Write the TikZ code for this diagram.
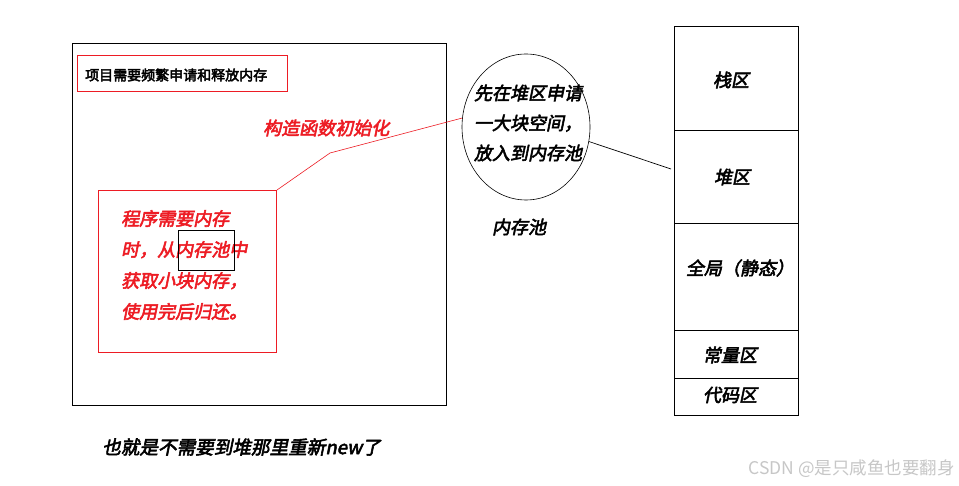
\documentclass[tikz,border=0pt]{standalone}
\usepackage{fontspec}
\newfontfamily\cjk{Noto Sans CJK SC}
\newfontfamily\cjkb{Noto Sans CJK SC}[FakeBold=3]
\newfontfamily\cjkbi{Noto Sans CJK SC}[FakeBold=3,FakeSlant=0.2]
\usetikzlibrary{shapes.geometric}
\definecolor{myred}{RGB}{237,28,36}
\begin{document}
\begin{tikzpicture}[x=1pt,y=-1pt,
  box/.style={draw=black,line width=1pt,inner sep=0pt,anchor=north west},
  redbox/.style={draw=myred,line width=1pt,inner sep=0pt,anchor=north west},
  region/.style={draw=black,line width=0.9pt,inner sep=0pt,anchor=north west,minimum width=124pt},
  bitxt/.style={inner sep=0pt,font=\cjkbi\fontsize{18}{30}\selectfont,text=black},
  redtxt/.style={inner sep=0pt,font=\cjkbi\fontsize{18}{31}\selectfont,text=myred}]
\useasboundingbox (0,0) rectangle (959,486);
\fill[white] (0,0) rectangle (959,486);
% left big frame
\node[box, minimum width=374pt, minimum height=362pt] (big) at (72,43) {};
\node[redbox, minimum width=210pt, minimum height=36pt] (title) at (77,55) {};
\node[inner sep=0pt, font=\cjkb\fontsize{14}{16}\selectfont, anchor=west] (titletxt) at (85,75) {项目需要频繁申请和释放内存};
\node[redtxt, anchor=west] (ctor) at (263,128) {构造函数初始化};
\node[redbox, minimum width=178pt, minimum height=162pt] (prog) at (98,190) {};
\node[redtxt, align=left, anchor=west] (progtxt) at (121,265) {程序需要内存\\时，从内存池中\\获取小块内存，\\使用完后归还。};
\node[box, line width=0.8pt, minimum width=56pt, minimum height=40pt] (hl) at (178,230) {};
% memory pool
\node[draw, ellipse, minimum width=128pt, minimum height=146pt, inner sep=0pt, line width=0.6pt] (pool) at (526,127) {};
\node[bitxt, align=center] (pooltxt) at (528,123) {先在堆区申请\\一大块空间，\\放入到内存池};
\node[bitxt] (poollbl) at (519,227) {内存池};
% memory layout column
\node[region, minimum height=104pt] (stack) at (674,26) {};
\node[region, minimum height=93pt] (heap) at (674,130) {};
\node[region, minimum height=107pt] (global) at (674,223) {};
\node[region, minimum height=48pt] (const) at (674,330) {};
\node[region, minimum height=37pt] (code) at (674,378) {};
\node[bitxt] (stacklbl) at (731,80) {栈区};
\node[bitxt] (heaplbl) at (732,177) {堆区};
\node[bitxt] (globallbl) at (740,268) {全局（静态）};
\node[bitxt] (constlbl) at (730,355) {常量区};
\node[bitxt] (codelbl) at (730,395) {代码区};
% connectors
\coordinate (bend) at (330,153);
\coordinate (hp) at (671,169);
\draw[myred, line width=0.6pt] (prog.north east) -- (bend) -- (pool.172);
\draw[black, line width=0.7pt] (pool.-13) -- (hp);
% bottom note
\node[inner sep=0pt, font=\cjkbi\fontsize{18.6}{20}\selectfont, anchor=west] (note) at (102,447) {也就是不需要到堆那里重新new了};
\node[inner sep=0pt, font=\cjk\fontsize{17.5}{19}\selectfont, text=black!22, anchor=east] (wm) at (955,469) {CSDN @是只咸鱼也要翻身};
\end{tikzpicture}
\end{document}
